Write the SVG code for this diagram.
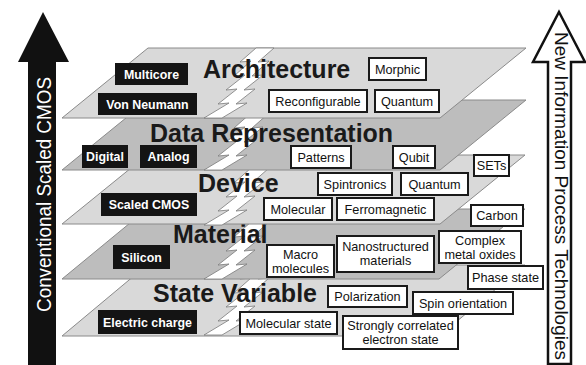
<svg xmlns="http://www.w3.org/2000/svg" width="586" height="365" viewBox="0 0 586 365">
  <style>
    .plane-light { fill: #d9d9d9; stroke: #8a8a8a; stroke-width: 1; }
    .plane-dark { fill: #bdbdbd; stroke: #8a8a8a; stroke-width: 1; }
    .bolt { fill: #ffffff; stroke: #7a7a7a; stroke-width: 0.8; stroke-linejoin: miter; }
    .title { font-family: "Liberation Sans", Arial, sans-serif; font-weight: bold; font-size: 25px; fill: #1a1a1a; }
    .bk rect { fill: #141414; }
    .bk text { font-family: "Liberation Sans", Arial, sans-serif; font-weight: bold; font-size: 12.4px; fill: #ffffff; text-anchor: middle; }
    .wt rect { fill: #ffffff; stroke: #1a1a1a; stroke-width: 2; }
    .wt text { font-family: "Liberation Sans", Arial, sans-serif; font-size: 12.7px; fill: #111111; text-anchor: middle; }
    .side { font-family: "Liberation Sans", Arial, sans-serif; text-anchor: middle; }
  </style>
  <defs>
    <!-- jagged split running through each layer -->
    <polygon id="bolt" class="bolt" points="0,0 -16,14 -5,13 -22,28 -11,27 -30,42 -19,41 -38,56 -27,55 -52,70 -34,70 -9,55 -20,56 -1,41 -12,42 7,27 -4,28 13,13 2,14 18,0"/>
  </defs>

  <rect width="586" height="365" fill="#ffffff"/>

  <!-- side arrows -->
  <g id="arrows">
    <polygon points="43,12 69,62 56,62 56,365 28,365 28,62 18,62" fill="#111111"/>
    <text class="side" transform="translate(51,194.5) rotate(-90)" font-size="21" textLength="235" lengthAdjust="spacingAndGlyphs" fill="#ffffff">Conventional Scaled CMOS</text>
    <polygon points="559,12 585,62 571,62 571,364 548,364 548,62 533,62" fill="#ffffff" stroke="#111111" stroke-width="2.5" stroke-linejoin="miter"/>
    <text class="side" transform="translate(554.5,196) rotate(90)" font-size="18.5" textLength="328" lengthAdjust="spacingAndGlyphs" fill="#111111">New Information Process Technologies</text>
  </g>

  <!-- layers, drawn bottom to top -->
  <g id="layer-state">
    <polygon class="plane-light" points="147,265 525,265 439,336 62,336"/>
    <use href="#bolt" transform="translate(256,265)"/>
    <text class="title" x="153" y="302">State Variable</text>
  </g>
  <g id="layer-material">
    <polygon class="plane-dark" points="147,209 525,209 439,279 62,279"/>
    <use href="#bolt" transform="translate(256,209)"/>
    <text class="title" x="173" y="243">Material</text>
  </g>
  <g id="layer-device">
    <polygon class="plane-light" points="147,155 525,155 440,224 62,224"/>
    <use href="#bolt" transform="translate(256,155)"/>
    <text class="title" x="198" y="192">Device</text>
  </g>
  <g id="layer-data">
    <polygon class="plane-dark" points="148,100 526,100 440,170 62,170"/>
    <use href="#bolt" transform="translate(256,100)"/>
    <text class="title" x="150" y="142">Data Representation</text>
  </g>
  <g id="layer-architecture">
    <polygon class="plane-light" points="148,48 526,48 440,118 62,118"/>
    <use href="#bolt" transform="translate(256,48)"/>
    <text class="title" x="203" y="78">Architecture</text>
  </g>

  <!-- conventional CMOS items (black) -->
  <g id="multicore" class="bk"><rect x="115" y="63" width="73" height="22"/><text x="151.5" y="78.5">Multicore</text></g>
  <g id="von-neumann" class="bk"><rect x="98" y="93" width="99" height="22"/><text x="147.5" y="108.5">Von Neumann</text></g>
  <g id="digital" class="bk"><rect x="82" y="145" width="46" height="23"/><text x="105" y="161">Digital</text></g>
  <g id="analog" class="bk"><rect x="140" y="145" width="57" height="23"/><text x="168.5" y="161">Analog</text></g>
  <g id="scaled-cmos" class="bk"><rect x="101" y="193" width="96" height="23"/><text x="149" y="209">Scaled CMOS</text></g>
  <g id="silicon" class="bk"><rect x="113" y="245" width="57" height="24"/><text x="141.5" y="261.5">Silicon</text></g>
  <g id="electric-charge" class="bk"><rect x="98" y="310" width="99" height="24"/><text x="147.5" y="326.5">Electric charge</text></g>

  <!-- new technology items (white) -->
  <g id="morphic" class="wt"><rect x="369" y="58" width="57" height="22"/><text x="397.5" y="73.5">Morphic</text></g>
  <g id="reconfigurable" class="wt"><rect x="269" y="90" width="98" height="22"/><text x="318" y="105.5">Reconfigurable</text></g>
  <g id="quantum-arch" class="wt"><rect x="375" y="90" width="64" height="22"/><text x="407" y="105.5">Quantum</text></g>
  <g id="patterns" class="wt"><rect x="291" y="146" width="60" height="22"/><text x="321" y="161.5">Patterns</text></g>
  <g id="qubit" class="wt"><rect x="393" y="146" width="42" height="22"/><text x="414" y="161.5">Qubit</text></g>
  <g id="sets" class="wt"><rect x="474" y="155" width="35" height="21"/><text x="491.5" y="170">SETs</text></g>
  <g id="spintronics" class="wt"><rect x="318" y="173" width="74" height="22"/><text x="355" y="188.5">Spintronics</text></g>
  <g id="quantum-device" class="wt"><rect x="401" y="173" width="67" height="22"/><text x="434.5" y="188.5">Quantum</text></g>
  <g id="molecular" class="wt"><rect x="264" y="198" width="68" height="22"/><text x="298" y="213.5">Molecular</text></g>
  <g id="ferromagnetic" class="wt"><rect x="337" y="198" width="97" height="22"/><text x="385.5" y="213.5">Ferromagnetic</text></g>
  <g id="carbon" class="wt"><rect x="471" y="205" width="52" height="21"/><text x="497" y="220">Carbon</text></g>
  <g id="macro-molecules" class="wt"><rect x="267" y="245" width="67" height="32"/><text x="300.5" y="259">Macro</text><text x="300.5" y="273">molecules</text></g>
  <g id="nanostructured" class="wt"><rect x="337" y="236" width="97" height="36"/><text x="385.5" y="251">Nanostructured</text><text x="385.5" y="265">materials</text></g>
  <g id="complex-oxides" class="wt"><rect x="439" y="231" width="82" height="32"/><text x="480" y="245">Complex</text><text x="480" y="259">metal oxides</text></g>
  <g id="phase-state" class="wt"><rect x="468" y="266" width="75" height="23"/><text x="505.5" y="282">Phase state</text></g>
  <g id="polarization" class="wt"><rect x="328" y="286" width="79" height="21"/><text x="367.5" y="301">Polarization</text></g>
  <g id="spin-orientation" class="wt"><rect x="413" y="292" width="100" height="22"/><text x="463" y="307.5">Spin orientation</text></g>
  <g id="molecular-state" class="wt"><rect x="240" y="312" width="97" height="22"/><text x="288.5" y="327.5">Molecular state</text></g>
  <g id="correlated-electron" class="wt"><rect x="343" y="316" width="115" height="33"/><text x="400.5" y="330">Strongly correlated</text><text x="400.5" y="344">electron state</text></g>
</svg>
